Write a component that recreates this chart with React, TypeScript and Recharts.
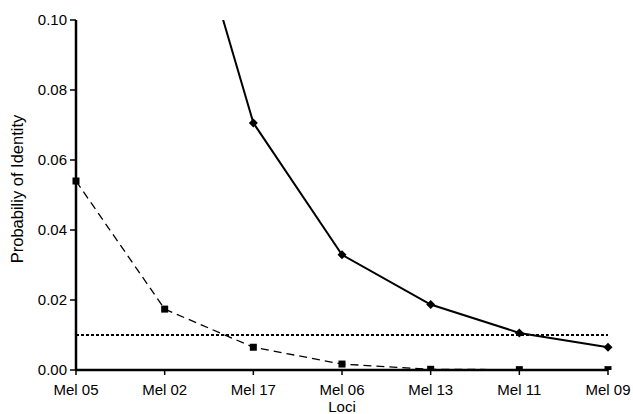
import { LineChart, Line, XAxis, YAxis, ReferenceLine } from "recharts";

const loci = ["Mel 05", "Mel 02", "Mel 17", "Mel 06", "Mel 13", "Mel 11", "Mel 09"];
// solid series, first two points sit above the 0.10 ceiling and get clipped
const combinedPI = [0.35, 0.157, 0.0706, 0.0329, 0.0187, 0.0106, 0.0065];
const siblingPI = [0.054, 0.0174, 0.0065, 0.0017, 0.0002, 0.0001, 0.0001];
const yTicks = [0, 0.02, 0.04, 0.06, 0.08, 0.1];
const threshold = 0.01;

const data = loci.map((name, i) => ({
  name,
  combined: combinedPI[i],
  sibling: siblingPI[i],
}));

const font = "'Liberation Sans', Arial, sans-serif";

function Diamond(props: any) {
  const { cx, cy, index } = props;
  if (cy == null || cy < 15) return <g key={index} />;
  const r = 4.5;
  return (
    <path
      key={index}
      d={`M${cx},${cy - r}L${cx + r},${cy}L${cx},${cy + r}L${cx - r},${cy}Z`}
      fill="#000"
    />
  );
}

function Square(props: any) {
  const { cx, cy, index } = props;
  if (cy == null) return <g key={index} />;
  return <rect key={index} x={cx - 3.5} y={cy - 3.5} width={7} height={7} fill="#000" />;
}

function YLabel(props: any) {
  const vb = props.viewBox || {};
  const cy = vb.y + vb.height / 2 - 6;
  return (
    <text
      x={17}
      y={cy}
      transform={`rotate(-90, 17, ${cy})`}
      textAnchor="middle"
      dominantBaseline="central"
      fill="#000"
      fontSize={16.5}
      fontFamily={font}
    >
      Probabiliy of Identity
    </text>
  );
}

function XLabel(props: any) {
  const vb = props.viewBox || {};
  return (
    <text
      x={vb.x + vb.width / 2}
      y={406}
      textAnchor="middle"
      dominantBaseline="central"
      fill="#000"
      fontSize={15}
      fontFamily={font}
    >
      Loci
    </text>
  );
}

export default function App() {
  return (
    <div style={{ position: "absolute", left: 0, top: 0, width: 633, height: 414, background: "#fff" }}>
      <LineChart
        width={633}
        height={414}
        data={data}
        margin={{ top: 20, right: 25, bottom: 0, left: 0 }}
      >
        <XAxis
          dataKey="name"
          height={44}
          axisLine={{ stroke: "#000", strokeWidth: 2.5 }}
          tickLine={{ stroke: "#000", strokeWidth: 1.5 }}
          tickSize={5}
          tickMargin={9}
          interval={0}
          tick={{ fill: "#000", fontSize: 15, fontFamily: font }}
          label={<XLabel />}
        />
        <YAxis
          width={76}
          domain={[0, 0.1]}
          ticks={yTicks}
          allowDataOverflow
          axisLine={{ stroke: "#000", strokeWidth: 2.5 }}
          tickLine={{ stroke: "#000", strokeWidth: 1.5 }}
          tickSize={6}
          tickMargin={3}
          tick={{ fill: "#000", fontSize: 15, fontFamily: font }}
          tickFormatter={(v: number) => v.toFixed(2)}
          label={<YLabel />}
        />
        <ReferenceLine
          y={threshold}
          stroke="#000"
          strokeWidth={2}
          strokeDasharray="3 2"
        />
        <Line
          type="linear"
          dataKey="sibling"
          stroke="#000"
          strokeWidth={1.3}
          strokeDasharray="8 5"
          dot={<Square />}
          isAnimationActive={false}
        />
        <Line
          type="linear"
          dataKey="combined"
          stroke="#000"
          strokeWidth={2}
          dot={<Diamond />}
          isAnimationActive={false}
        />
      </LineChart>
    </div>
  );
}
